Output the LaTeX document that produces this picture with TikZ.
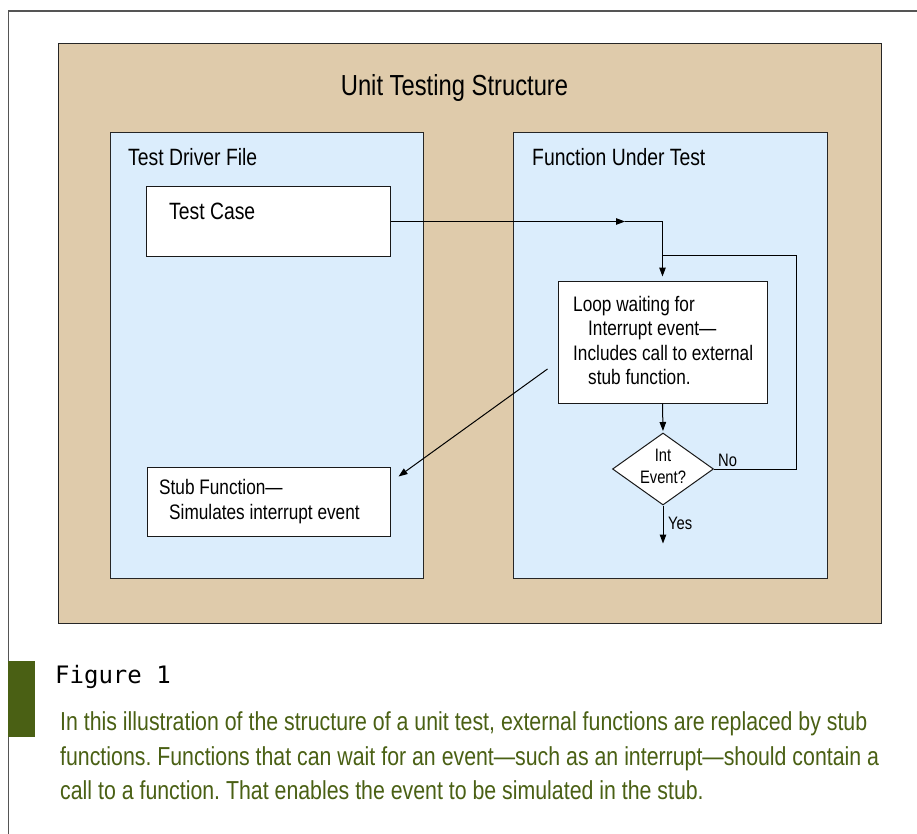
\documentclass[tikz,border=0pt]{standalone}
\usepackage{fontspec}
\setmainfont{Liberation Sans}[FakeStretch=0.82]
\newfontfamily\figmono{DejaVu Sans Mono}
\usetikzlibrary{shapes.geometric,arrows.meta,calc}
\definecolor{tanbg}{RGB}{223,203,171}
\definecolor{paleblue}{RGB}{219,237,252}
\definecolor{olivegreen}{RGB}{74,96,20}
\definecolor{framegray}{RGB}{85,85,85}
\newcommand{\fs}[2]{\fontsize{#1}{#2}\selectfont}
\frenchspacing
\begin{document}
\begin{tikzpicture}[x=1pt,y=-1pt,
  panel/.style={draw=black!85, line width=1pt},
  boxnode/.style={draw=black!90, fill=white, line width=1pt, inner sep=0pt},
  lbl/.style={inner sep=0pt, anchor=base west},
  wire/.style={line width=1pt, black},
  conn/.style={wire, -{Triangle[length=9pt,width=6.5pt]}},
]
\useasboundingbox (0,0) rectangle (917,834);
\fill[white] (0,0) rectangle (917,834);
% outer frame
\draw[framegray, line width=1.3pt] (918,11) -- (8.5,11) -- (8.5,835);
% panels
\draw[panel, fill=tanbg] (58,44) rectangle (881,623);
\draw[panel, fill=paleblue] (110,133) rectangle (423,578);
\draw[panel, fill=paleblue] (513,133) rectangle (827,578);
% titles
\node[inner sep=0pt, anchor=base] (title) at (454.5,96) {\fs{29}{34}Unit Testing Structure};
\node[lbl] (tdf) at (128,166) {\fs{23.6}{28}Test Driver File};
\node[lbl] (fut) at (532,166) {\fs{23.6}{28}Function Under Test};
% boxes
\node[boxnode, minimum width=244pt, minimum height=69pt] (tc) at (268,221.5) {};
\node[lbl] (tctext) at (169,220) {\fs{23.6}{28}Test Case};
\node[boxnode, minimum width=209pt, minimum height=122pt] (loop) at (662.5,342) {};
\node[lbl] (l1) at (573,311) {\fs{21}{25}Loop waiting for};
\node[lbl] (l2) at (588,335.5) {\fs{21}{25}Interrupt event—};
\node[lbl] (l3) at (573,360) {\fs{21}{25}Includes call to external};
\node[lbl] (l4) at (588,384.5) {\fs{21}{25}stub function.};
\node[boxnode, minimum width=243pt, minimum height=69pt] (stub) at (268.5,501.5) {};
\node[lbl] (s1) at (159,494.5) {\fs{21}{25}Stub Function—};
\node[lbl] (s2) at (169,519.5) {\fs{21}{25}Simulates interrupt event};
% decision
\node[diamond, draw=black!90, fill=white, line width=1pt, inner sep=0pt,
      minimum width=101pt, minimum height=72pt] (dia) at (663,469) {};
\node[inner sep=0pt, align=center, font=\fs{18}{22}] (diatext) at (663,466) {Int\\Event?};
\node[lbl] (no) at (718,466) {\fs{18}{22}No};
\node[lbl] (yes) at (668,529.5) {\fs{18}{22}Yes};
% connectors
\coordinate (mid1) at (625,221.5);
\coordinate (join) at ($(loop.north)+(0,-25)$);
\coordinate (dstart) at ($(loop.west)+(-10,27)$);
\coordinate (dend) at ($(stub.north east)+(8,10)$);
\coordinate (yesend) at ($(dia.south)+(0,38)$);
\draw[conn] (tc.east) -- (mid1);
\draw[conn, shorten >=4pt] (mid1) -| (loop.north);
\draw[conn, shorten >=1.5pt] (loop.south) -- (dia.north);
\draw[wire] (dia.east) -- ++(82,0) |- (join);
\draw[conn] (dia.south) -- (yesend);
\draw[conn] (dstart) -- (dend);
% caption
\fill[olivegreen] (8,661) rectangle (35,737);
\node[lbl] (fig) at (55,683) {\figmono\fs{24}{28}Figure 1};
\node[lbl, text=olivegreen] (c1) at (60,730) {\fs{26}{30}In this illustration of the structure of a unit test, external functions are replaced by stub};
\node[lbl, text=olivegreen] (c2) at (60,765) {\fs{26}{30}functions. Functions that can wait for an event—such as an interrupt—should contain a};
\node[lbl, text=olivegreen] (c3) at (60,799) {\fs{26}{30}call to a function. That enables the event to be simulated in the stub.};
\end{tikzpicture}
\end{document}
